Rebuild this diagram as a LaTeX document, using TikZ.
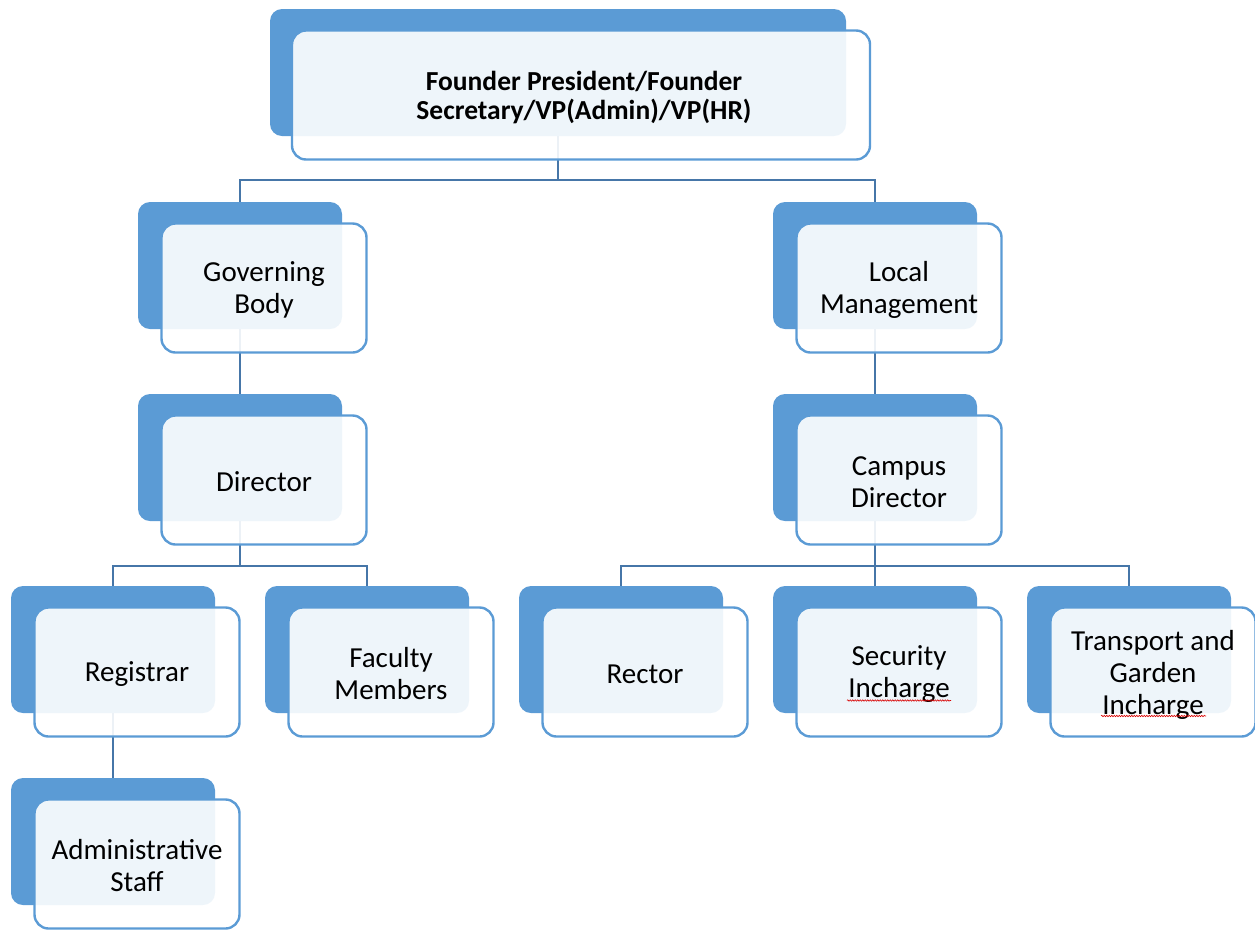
\documentclass[tikz,border=0pt]{standalone}
\usepackage{fontspec}
\setmainfont{Carlito}
\usetikzlibrary{calc,decorations.pathmorphing}
\definecolor{boxblue}{HTML}{5B9BD5}
\definecolor{linkblue}{HTML}{4676A8}

\begin{document}
\begin{tikzpicture}[x=1pt,y=-1pt,
  backbox/.style={fill=boxblue, rounded corners=12pt, minimum width=204pt,
    minimum height=127pt, inner sep=0pt, outer sep=0pt},
  frontbox/.style={draw=boxblue, line width=2.4pt, fill=white, fill opacity=0.9,
    rounded corners=14pt, minimum width=205pt, minimum height=129pt, outer sep=0pt},
  title/.style={align=center, inner sep=0pt, font=\fontsize{29}{32}\selectfont},
  link/.style={draw=linkblue, line width=2pt},
  spell/.style={draw=red!85!black, line width=0.6pt, decorate,
    decoration={snake, amplitude=0.7pt, segment length=2.5pt}}]

\useasboundingbox (0,0) rectangle (1255,930);

% back (solid) cards
\node[backbox, minimum width=576pt] (top) at (558,72.5) {};
\node[backbox] (gb)  at (240,265.5) {};
\node[backbox] (lm)  at (875,265.5) {};
\node[backbox] (dir) at (240,457.5) {};
\node[backbox] (cd)  at (875,457.5) {};
\node[backbox] (reg) at (113,649.5) {};
\node[backbox] (fac) at (367,649.5) {};
\node[backbox] (rec) at (621,649.5) {};
\node[backbox] (sec) at (875,649.5) {};
\node[backbox] (tra) at (1129,649.5) {};
\node[backbox] (adm) at (113,841.5) {};

% connectors
\coordinate (j0) at (558,180);
\coordinate (jl) at (240,566);
\coordinate (jr) at (875,566);
\draw[link] (top.south) -- (j0) -| (gb.north);
\draw[link] (j0) -| (lm.north);
\draw[link] (gb.south) -- (dir.north);
\draw[link] (lm.south) -- (cd.north);
\draw[link] (dir.south) -- (jl) -| (reg.north);
\draw[link] (jl) -| (fac.north);
\draw[link] (cd.south) -- (jr) -| (rec.north);
\draw[link] (jr) -| (tra.north);
\draw[link] (jr) -- (sec.north);
\draw[link] (reg.south) -- (adm.north);

% front (outlined) cards
\node[frontbox, minimum width=578pt] (top-f) at ($(top.center)+(23,22.5)$) {};
\foreach \n in {gb,lm,dir,cd,reg,fac,rec,sec,tra,adm}
  \node[frontbox] (\n-f) at ($(\n.center)+(24,22.5)$) {};

% titles
\node[title, font=\bfseries\fontsize{27.5}{29}\selectfont] (top-t) at ($(top-f.center)+(3,2.5)$)
  {Founder President/Founder\\Secretary/VP(Admin)/VP(HR)};
\node[title] (gb-t)  at ($(gb-f.center)+(0,1.5)$)  {Governing\\Body};
\node[title] (lm-t)  at ($(lm-f.center)+(0,1.5)$)  {Local\\Management};
\node[title] (dir-t) at ($(dir-f.center)+(0,2)$)   {Director};
\node[title] (cd-t)  at ($(cd-f.center)+(0,2)$)    {Campus\\Director};
\node[title] (reg-t) at ($(reg-f.center)+(0,2)$)   {Registrar};
\node[title] (fac-t) at ($(fac-f.center)+(0,2)$)   {Faculty\\Members};
\node[title] (rec-t) at ($(rec-f.center)+(0,2)$)   {Rector};
\node[title] (sec-t) at ($(sec-f.center)+(0,2.5)$) {Security\\Incharge};
\node[title] (tra-t) at ($(tra-f.center)+(0,2.5)$) {Transport and\\Garden\\Incharge};
\node[title] (adm-t) at ($(adm-f.center)+(0,2)$)   {Administrative\\Staff};

% spelling marks under "Incharge"
\draw[spell] ($(sec-t.center)+(-52,26)$) -- ($(sec-t.center)+(52,26)$);
\draw[spell] ($(tra-t.center)+(-52,41.5)$) -- ($(tra-t.center)+(53,41.5)$);
\end{tikzpicture}
\end{document}
